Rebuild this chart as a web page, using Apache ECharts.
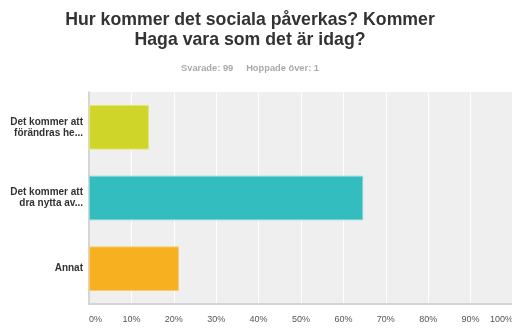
<!DOCTYPE html>
<html>
<head>
<meta charset="utf-8">
<script src="https://cdn.jsdelivr.net/npm/echarts@6/dist/echarts.min.js"></script>
<style>html,body{margin:0;padding:0;background:#fff;overflow:hidden}#c{width:512px;height:329px}</style>
</head>
<body>
<div id="c"></div>
<script>
var titleLines = ['Hur kommer det sociala påverkas? Kommer', 'Haga vara som det är idag?'];
var subtitleText = 'Svarade: 99\u00a0\u00a0\u00a0\u00a0\u00a0Hoppade över: 1';
var categories = ['Det kommer att\nförändras he...', 'Det kommer att\ndra nytta av...', 'Annat'];
var values = [14.14, 64.65, 21.21];
var barColors = ['#d0d52a', '#33bdbf', '#f7b01f'];
var barBorders = ['#e2e57a', '#7fd6d7', '#f9cb6a'];
var tickValues = [0, 10, 20, 30, 40, 50, 60, 70, 80, 90, 100];

var FONT = 'Arial, "Liberation Sans", sans-serif';
var chart = echarts.init(document.getElementById('c'), null, {renderer: 'canvas'});
chart.setOption({
  animation: false,
  title: [{
    text: titleLines.join('\n'),
    left: 250, top: 10, textAlign: 'center',
    padding: 0,
    textStyle: {fontFamily: FONT, fontSize: 17.7, fontWeight: 'bold', color: '#333', lineHeight: 20}
  }, {
    text: subtitleText,
    left: 250, top: 64, textAlign: 'center',
    padding: 0,
    textStyle: {fontFamily: FONT, fontSize: 9.3, fontWeight: 'bold', color: '#aaa'}
  }],
  grid: {
    left: 89, width: 424, top: 92, bottom: 25,
    outerBoundsMode: 'none', containLabel: false,
    show: true, backgroundColor: '#efefef', borderWidth: 0
  },
  xAxis: {
    type: 'value', min: 0, max: 100, interval: 10,
    axisLine: {show: true, lineStyle: {color: '#d4d4d4', width: 2}},
    axisTick: {show: false},
    splitLine: {show: true, lineStyle: {color: '#ffffff', width: 1}},
    axisLabel: {
      formatter: function (v) { return tickValues.indexOf(v) >= 0 ? v + '%' : ''; },
      color: '#555', fontFamily: FONT, fontSize: 9, margin: 11,
      alignMinLabel: 'left', alignMaxLabel: 'right'
    }
  },
  yAxis: {
    type: 'category', data: categories, inverse: true,
    axisLine: {show: true, lineStyle: {color: '#c8c8c8', width: 1.5}},
    axisTick: {show: false},
    axisLabel: {color: '#333', fontFamily: FONT, fontSize: 10, fontWeight: 'bold', lineHeight: 11, margin: 6, align: 'right'}
  },
  series: [{
    type: 'bar',
    barCategoryGap: '37%',
    data: values.map(function (v, i) {
      return {value: v, itemStyle: {color: barColors[i], borderColor: barBorders[i], borderWidth: 1}};
    })
  }]
});
</script>
</body>
</html>
